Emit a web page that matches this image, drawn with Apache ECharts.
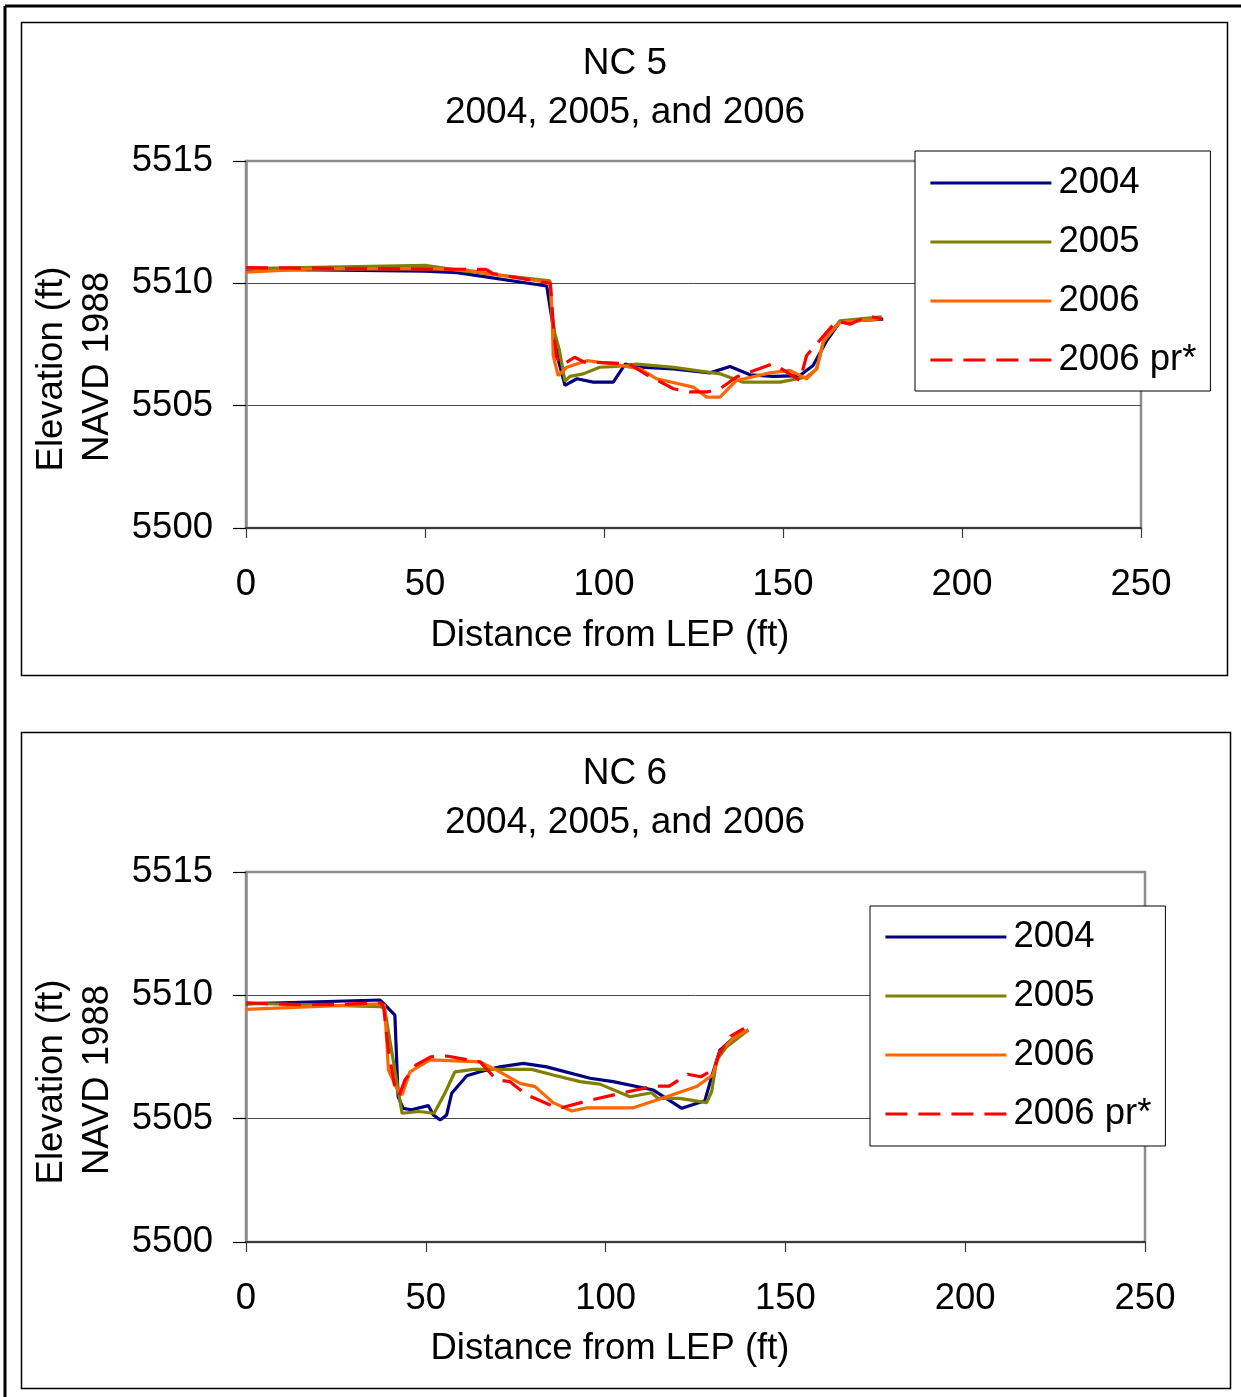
<!DOCTYPE html>
<html>
<head>
<meta charset="utf-8">
<script src="https://cdn.jsdelivr.net/npm/echarts@6/dist/echarts.min.js"></script>
<style>
html,body{margin:0;padding:0;background:#fff;}
#main{width:1241px;height:1397px;}
</style>
</head>
<body>
<div id="main"></div>
<script>
// ---------- data ----------
const seriesNames = ['2004', '2005', '2006', '2006 pr*'];
const xTicks = [0, 50, 100, 150, 200, 250];
const yTicks = [5500, 5505, 5510, 5515];

// NC 5 : [distance from LEP (ft), elevation (ft)]
const nc5_2004 = [
  [0, 5510.57], [20, 5510.55], [50, 5510.5], [59, 5510.44], [84, 5509.89], [85.5, 5508.5],
  [87, 5507.0], [89.1, 5505.83], [92.4, 5506.1], [97, 5505.96], [102.6, 5505.96],
  [105.9, 5506.7], [110, 5506.57], [119.4, 5506.5], [129.6, 5506.34], [135.2, 5506.6],
  [140.8, 5506.26], [147.3, 5506.2], [154.7, 5506.23], [158.4, 5506.64], [162.2, 5507.65],
  [165.9, 5508.43], [178, 5508.54]
];
const nc5_2005 = [
  [0, 5510.6], [50.5, 5510.73], [59, 5510.54], [70, 5510.35], [84.9, 5510.1], [85.4, 5508.8],
  [86.3, 5507.93], [87.5, 5507.3], [89.1, 5506.0], [90.5, 5506.2], [94.2, 5506.3],
  [98.8, 5506.57], [103.5, 5506.6], [109.1, 5506.7], [119.4, 5506.57], [132.4, 5506.3],
  [138.9, 5505.96], [149.2, 5505.96], [156.6, 5506.17], [159.4, 5506.5], [161.3, 5507.6],
  [165.9, 5508.47], [177.6, 5508.63]
];
const nc5_2006 = [
  [0, 5510.46], [17, 5510.58], [50.5, 5510.6], [61.6, 5510.54], [69, 5510.37], [85, 5510.03],
  [85.5, 5508.8], [85.8, 5507.05], [87.2, 5506.23], [89.6, 5506.57], [95.2, 5506.84],
  [102.6, 5506.7], [110.1, 5506.5], [114.7, 5506.1], [124.9, 5505.76], [128.7, 5505.35],
  [132.4, 5505.35], [137, 5506.03], [146.4, 5506.34], [151.9, 5506.44], [156.6, 5506.1],
  [159.4, 5506.5], [161.3, 5507.66], [165.9, 5508.4], [177.6, 5508.56]
];
const nc5_pr = [
  [0, 5510.64], [67, 5510.57], [69, 5510.4], [85, 5510.0], [86, 5508.0], [86.7, 5507.0],
  [88.2, 5506.64], [91.8, 5506.98], [94.5, 5506.78], [101.7, 5506.75], [107, 5506.7],
  [112, 5506.26], [119.4, 5505.69], [124.1, 5505.56], [128.7, 5505.56], [132.4, 5505.69],
  [137, 5506.17], [147, 5506.7], [149.6, 5506.5], [154.7, 5506.03], [156.6, 5507.05],
  [165, 5508.47], [168.7, 5508.33], [173.8, 5508.67], [177.6, 5508.54]
];

// NC 6
const nc6_2004 = [
  [0, 5509.65], [37.3, 5509.81], [39.6, 5509.47], [41.4, 5509.2], [42.3, 5505.89],
  [43.7, 5505.42], [46, 5505.36], [50.7, 5505.53], [52.1, 5505.15], [54, 5504.95],
  [55.8, 5505.15], [57.2, 5506.03], [61.4, 5506.74], [65.1, 5506.9], [70.6, 5507.1],
  [77.1, 5507.24], [83.6, 5507.1], [95.7, 5506.64], [102.1, 5506.5], [113.3, 5506.16],
  [121.2, 5505.42], [127.6, 5505.73], [129.5, 5506.7], [131.8, 5507.78], [135.5, 5508.26],
  [139.7, 5508.6]
];
const nc6_2005 = [
  [0, 5509.68], [37.3, 5509.54], [38.5, 5509.5], [43.4, 5505.22], [48.1, 5505.29],
  [52.3, 5505.22], [55.3, 5506.03], [58.1, 5506.9], [63.2, 5507.0], [79.4, 5507.0],
  [85.4, 5506.77], [92.9, 5506.5], [98.4, 5506.4], [106.8, 5505.89], [112.8, 5506.05],
  [114.6, 5505.82], [120.6, 5505.82], [128.1, 5505.65], [129.5, 5506.1], [130.9, 5507.38],
  [133.7, 5507.92], [139.7, 5508.6]
];
const nc6_2006 = [
  [0, 5509.43], [37.3, 5509.65], [38.5, 5509.6], [39.2, 5508.0], [39.6, 5506.97],
  [42, 5506.2], [43.4, 5505.96], [45.6, 5506.9], [51.2, 5507.38], [65.1, 5507.3],
  [69.7, 5506.97], [76.2, 5506.43], [80.4, 5506.3], [85.4, 5505.65], [90.6, 5505.31],
  [94.7, 5505.44], [107.7, 5505.44], [117, 5505.89], [125.3, 5506.3], [129.8, 5506.77],
  [131.8, 5507.71], [135.5, 5508.26], [139.7, 5508.6]
];
const nc6_pr = [
  [0, 5509.7], [15, 5509.62], [28, 5509.64], [37.5, 5509.7], [38.3, 5509.5], [39.6, 5507.78],
  [41.7, 5506.03], [42.6, 5505.95], [44.2, 5506.57], [47.3, 5507.18], [51.5, 5507.51],
  [55.8, 5507.54], [65.1, 5507.3], [69.7, 5506.57], [73.4, 5506.5], [78.1, 5505.96],
  [85.8, 5505.48], [88, 5505.45], [95.1, 5505.73], [104.3, 5506.03], [113.5, 5506.32],
  [117.7, 5506.32], [122.8, 5506.8], [126.5, 5506.7], [130.2, 5507.0], [131.5, 5507.6],
  [134.8, 5508.35], [138.5, 5508.66]
];

// ---------- styling ----------
const FONT = '"Liberation Sans", Arial, Helvetica, sans-serif';
const FS = 36.5;
const colors = ['#000080', '#808000', '#FF6600', '#FF0000'];
const lineTypes = ['solid', 'solid', 'solid', [22, 11]];

function grid(top, height, width) {
  return {left: 246, top: top, width: width, height: height, show: true,
    borderColor: '#8c8c8c', borderWidth: 2.5, backgroundColor: 'transparent', containLabel: false};
}
function xAxis(idx) {
  return {
    type: 'value', gridIndex: idx, min: xTicks[0], max: xTicks[xTicks.length - 1],
    interval: xTicks[1] - xTicks[0],
    axisLine: {show: true, lineStyle: {color: '#3a3a3a', width: 2}},
    axisTick: {show: true, inside: false, length: 10, lineStyle: {color: '#3a3a3a', width: 1.2}},
    axisLabel: {margin: 38, fontSize: FS, color: '#000', fontFamily: FONT, formatter: v => String(v)},
    splitLine: {show: false}
  };
}
function yAxis(idx) {
  return {
    type: 'value', gridIndex: idx, min: yTicks[0], max: yTicks[yTicks.length - 1],
    interval: yTicks[1] - yTicks[0],
    axisLine: {show: true, lineStyle: {color: '#8c8c8c', width: 2.5}},
    axisTick: {show: true, inside: false, length: 13, lineStyle: {color: '#000', width: 1.2}},
    axisLabel: {margin: 33, fontSize: FS, color: '#000', fontFamily: FONT, formatter: v => String(v)},
    splitLine: {show: true, showMinLine: false, showMaxLine: false, lineStyle: {color: '#4a4a4a', width: 1}}
  };
}
function makeSeries(idx, datas) {
  return datas.map((d, i) => ({
    name: seriesNames[i], type: 'line', xAxisIndex: idx, yAxisIndex: idx,
    data: d, symbol: 'none', smooth: false, silent: true,
    lineStyle: {color: colors[i], width: 3.2, type: lineTypes[i]},
    itemStyle: {color: colors[i]},
    z: 2 + i
  }));
}
function legend(left, top, pad) {
  return {
    left: left, top: top, orient: 'vertical', data: seriesNames,
    itemWidth: 121, itemHeight: 14, itemGap: 19, padding: pad,
    borderColor: '#000', borderWidth: 1, backgroundColor: '#fff', borderRadius: 0,
    itemStyle: {opacity: 0},
    lineStyle: {width: 2.8},
    textStyle: {fontSize: FS, lineHeight: 40, color: '#000', fontFamily: FONT, padding: [0, 0, 0, 2]},
    selectedMode: false
  };
}
function txt(text, x, y, rot) {
  return {type: 'text', x: x, y: y, rotation: rot || 0, silent: true,
    style: {text: text, x: 0, y: 0, fill: '#000', font: FS + 'px ' + FONT, align: 'center', verticalAlign: 'middle'}};
}
function titleOf(text, top) {
  return {text: text, left: 620, top: top, textAlign: 'center',
    textStyle: {fontSize: 37, lineHeight: 48.5, fontWeight: 'normal', color: '#000', fontFamily: FONT}};
}

const option = {
  animation: false,
  backgroundColor: '#fff',
  title: [
    titleOf('NC 5\n2004, 2005, and 2006', 35),
    titleOf('NC 6\n2004, 2005, and 2006', 745)
  ],
  legend: [legend(915, 151, [12, 14, 11, 14]), legend(870, 906, [11, 14, 12, 14])],
  grid: [grid(161, 367, 895), grid(872, 370, 899)],
  xAxis: [xAxis(0), xAxis(1)],
  yAxis: [yAxis(0), yAxis(1)],
  series: [].concat(
    makeSeries(0, [nc5_2004, nc5_2005, nc5_2006, nc5_pr]),
    makeSeries(1, [nc6_2004, nc6_2005, nc6_2006, nc6_pr])
  ),
  graphic: [
    {type: 'line', silent: true, z: -10, shape: {x1: 5, y1: 6, x2: 1241, y2: 6}, style: {stroke: '#000', lineWidth: 3}},
    {type: 'line', silent: true, z: -10, shape: {x1: 5, y1: 6, x2: 5, y2: 1397}, style: {stroke: '#000', lineWidth: 3}},
    {type: 'rect', silent: true, z: -10, shape: {x: 21.5, y: 22.5, width: 1206, height: 653}, style: {fill: 'none', stroke: '#000', lineWidth: 1.5}},
    {type: 'rect', silent: true, z: -10, shape: {x: 21.5, y: 732.5, width: 1209, height: 656}, style: {fill: 'none', stroke: '#000', lineWidth: 1.5}},
    txt('Distance from LEP (ft)', 610, 636),
    txt('Elevation (ft)', 52, 369, Math.PI / 2),
    txt('NAVD 1988', 98, 367, Math.PI / 2),
    txt('Distance from LEP (ft)', 610, 1349),
    txt('Elevation (ft)', 52, 1082, Math.PI / 2),
    txt('NAVD 1988', 98, 1080, Math.PI / 2)
  ]
};

const chart = echarts.init(document.getElementById('main'), null, {renderer: 'canvas'});
chart.setOption(option);
</script>
</body>
</html>
